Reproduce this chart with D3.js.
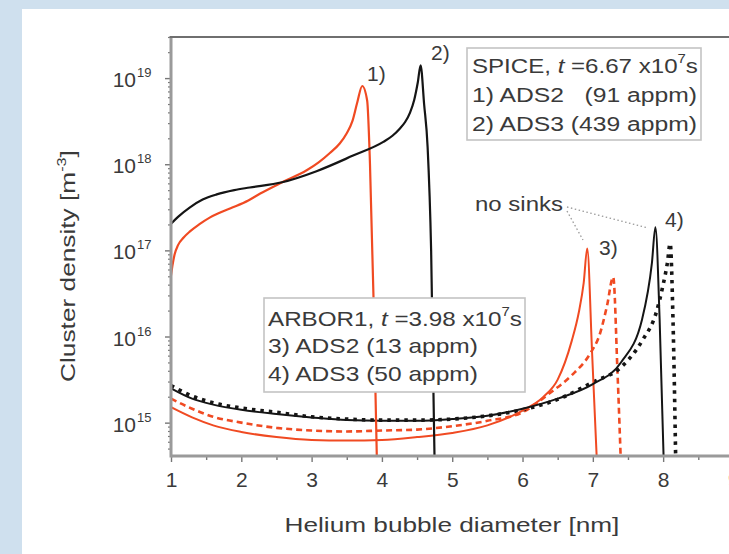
<!DOCTYPE html>
<html><head><meta charset="utf-8">
<script src="https://cdn.jsdelivr.net/npm/d3@7"></script>
<style>
body{margin:0;background:#cfe0ee;}
svg{display:block;}
text{font-family:"Liberation Sans",Arial,sans-serif;fill:#3a3a3a;white-space:pre;}
</style>
</head><body>
<svg id="c" width="729" height="554"></svg>
<script>
// ---------- data ----------
const xTickValues = [1,2,3,4,5,6,7,8,9];
const yTickExponents = [15,16,17,18,19];

// SPICE, ADS2 (91 appm) – red solid, label 1)
const spiceAds2X = [1.00,1.02,1.05,1.10,1.18,1.27,1.40,1.55,1.70,1.88,2.10,2.27,2.58,2.93,3.10,3.26,3.40,3.50,3.58,3.65,3.72,3.79,3.83,3.88,3.93];
const spiceAds2Y = [5.1e16,6.6e16,8.9e16,1.15e17,1.41e17,1.66e17,2.0e17,2.4e17,2.75e17,3.16e17,3.8e17,4.57e17,6.17e17,8.5e17,1.05e18,1.35e18,1.74e18,2.29e18,3.16e18,5.25e18,8.1e18,5.5e18,1.02e18,2.9e16,3.2e14];

// SPICE, ADS3 (439 appm) – black solid, label 2)
const spiceAds3X = [1.00,1.10,1.27,1.45,1.65,1.90,2.12,2.58,3.07,3.59,4.02,4.15,4.25,4.33,4.40,4.46,4.51,4.55,4.60,4.65,4.70,4.75];
const spiceAds3Y = [2.04e17,2.45e17,3.16e17,3.89e17,4.47e17,5.01e17,5.37e17,6.17e17,8.3e17,1.26e18,1.82e18,2.14e18,2.57e18,3.09e18,3.98e18,5.62e18,8.9e18,1.41e19,5.0e18,1.58e18,1.0e17,3.2e14];

// ARBOR1, ADS2 (13 appm) – red solid, label 3)
const arborAds2X = [1.0,1.3,1.6,2.0,2.5,3.0,3.5,4.0,4.5,5.0,5.5,6.0,6.3,6.5,6.7,6.8,6.87,6.92,6.99,7.06];
const arborAds2Y = [1.51e15,1.15e15,9.3e14,7.8e14,6.8e14,6.3e14,6.2e14,6.3e14,6.8e14,7.6e14,9.3e14,1.38e15,2.0e15,3.16e15,8.9e15,1.9e16,4.2e16,1.05e17,6.3e15,3.2e14];

// ARBOR1, ADS2 – red dashed
const arborAds2bX = [1.0,1.3,1.6,2.0,2.5,3.0,3.5,4.0,4.5,5.0,5.5,6.0,6.4,6.7,6.96,7.1,7.2,7.29,7.35,7.40];
const arborAds2bY = [1.9e15,1.45e15,1.17e15,1.0e15,8.7e14,8.1e14,7.9e14,8.1e14,8.3e14,9.1e14,1.05e15,1.32e15,2.24e15,3.55e15,6.3e15,1.07e16,2.24e16,4.9e16,4.0e15,3.2e14];

// ARBOR1, ADS3 (50 appm) – black solid, label 4)
const arborAds3X = [1.0,1.3,1.6,2.0,2.5,3.0,3.5,4.0,4.5,5.0,5.5,6.0,6.5,7.0,7.4,7.7,7.84,7.89,7.95,8.01];
const arborAds3Y = [2.5e15,1.9e15,1.62e15,1.41e15,1.26e15,1.15e15,1.07e15,1.05e15,1.05e15,1.1e15,1.2e15,1.45e15,1.9e15,2.8e15,5.0e15,1.58e16,7.1e16,1.86e17,1.58e16,3.2e14];

// ARBOR1, ADS3 – black dotted
const arborAds3bX = [1.0,1.3,1.6,2.0,2.5,3.0,3.5,4.0,4.5,5.0,5.5,6.0,6.5,7.0,7.4,7.7,7.91,8.00,8.06,8.10,8.14,8.18];
const arborAds3bY = [2.7e15,2.04e15,1.7e15,1.48e15,1.32e15,1.17e15,1.1e15,1.07e15,1.07e15,1.1e15,1.2e15,1.41e15,1.86e15,2.95e15,4.4e15,8.9e15,2.0e16,4.0e16,7.1e16,1.2e17,1.58e16,3.2e14];

// ---------- chart ----------
const svg = d3.select("#c");
const W = 729, H = 554;
const RED = "#f04a22", BLK = "#151515";

svg.append("rect").attr("width",W).attr("height",H).attr("fill","#cfe0ee");
svg.append("rect").attr("x",22).attr("y",9).attr("width",W-22).attr("height",H-9).attr("fill","#ffffff");

const x = d3.scaleLinear().domain([1,9.5]).range([171,768.6]);
const y = d3.scaleLog().domain([4.1e14,3e19]).range([456,37]);
const plotTop = y.range()[1], plotBot = y.range()[0], plotLeft = x.range()[0];

svg.append("clipPath").attr("id","clip").append("rect")
  .attr("x",plotLeft).attr("y",plotTop).attr("width",W-plotLeft).attr("height",plotBot-plotTop);

const line = d3.line().x(d=>x(d[0])).y(d=>y(d[1])).curve(d3.curveMonotoneX);
const zip = (a,b)=>a.map((v,i)=>[v,b[i]]);

const curves = [
  {xs:arborAds2bX, ys:arborAds2bY, c:RED, w:2.6, dash:"6,4"},
  {xs:arborAds3bX, ys:arborAds3bY, c:BLK, w:3.6, dash:"3.5,5"},
  {xs:arborAds2X, ys:arborAds2Y, c:RED, w:2, dash:null},
  {xs:arborAds3X, ys:arborAds3Y, c:BLK, w:2, dash:null},
  {xs:spiceAds2X, ys:spiceAds2Y, c:RED, w:2.2, dash:null},
  {xs:spiceAds3X, ys:spiceAds3Y, c:BLK, w:2.2, dash:null}
];
const gC = svg.append("g").attr("clip-path","url(#clip)");
curves.forEach(cv=>{
  gC.append("path").attr("d",line(zip(cv.xs,cv.ys)))
    .attr("fill","none").attr("stroke",cv.c).attr("stroke-width",cv.w)
    .attr("stroke-linejoin","round")
    .attr("stroke-dasharray",cv.dash);
});

// axes
const AX = "#9a9a9a";
const xMinor = d3.range(1.5,9.6,1);
svg.append("g").attr("transform",`translate(0,${plotBot})`)
  .call(d3.axisBottom(x).tickValues(xMinor).tickSize(4).tickFormat(""))
  .call(g=>{g.select(".domain").remove();g.selectAll("line").attr("stroke","#777").attr("stroke-width",1.4);});
const gx = svg.append("g").attr("transform",`translate(0,${plotBot})`)
  .call(d3.axisBottom(x).tickValues(xTickValues).tickSize(6).tickPadding(12))
  .call(g=>{g.select(".domain").remove();g.selectAll("line").attr("stroke","#777").attr("stroke-width",1.4);});
gx.selectAll("text").attr("font-size",21).attr("fill","#3a3a3a").attr("dy",null).attr("y",31)
  .style("font-family",'"Liberation Sans",Arial,sans-serif');

const yMinor = [];
yTickExponents.concat([14]).forEach(e=>{for(let k=2;k<=9;k++){const v=k*Math.pow(10,e); if(v>=y.domain()[0]&&v<=y.domain()[1]) yMinor.push(v);}});
svg.append("g").attr("transform",`translate(${plotLeft},0)`)
  .call(d3.axisLeft(y).tickValues(yMinor).tickSize(3).tickFormat(""))
  .call(g=>{g.select(".domain").remove();g.selectAll("line").attr("stroke","#777").attr("stroke-width",1.2);});
svg.append("g").attr("transform",`translate(${plotLeft},0)`)
  .call(d3.axisLeft(y).tickValues(yTickExponents.map(e=>Math.pow(10,e))).tickSize(6).tickFormat(""))
  .call(g=>{g.select(".domain").remove();g.selectAll("line").attr("stroke","#777").attr("stroke-width",1.4);});

yTickExponents.forEach(e=>{
  const yy = y(Math.pow(10,e));
  svg.append("text").attr("x",136).attr("y",yy+9).attr("text-anchor","end").attr("font-size",21).text("10");
  svg.append("text").attr("x",137).attr("y",yy-1).attr("font-size",13).text(String(e));
});

// frame lines
svg.append("line").attr("x1",plotLeft).attr("x2",W).attr("y1",plotBot).attr("y2",plotBot).attr("stroke",AX).attr("stroke-width",3);
svg.append("line").attr("x1",plotLeft).attr("x2",plotLeft).attr("y1",plotTop).attr("y2",plotBot+1.5).attr("stroke",AX).attr("stroke-width",3);
svg.append("line").attr("x1",plotLeft-1.5).attr("x2",W).attr("y1",plotTop).attr("y2",plotTop).attr("stroke","#6f6f6f").attr("stroke-width",2.2);

// helper: fit text horizontally to a target width
function fit(t, w, ax){
  const bw = t.node().getBBox().width;
  const s = w / bw;
  t.attr("transform",`translate(${ax},0) scale(${s},1) translate(${-ax},0)`);
}

// axis titles
const xl = svg.append("text").attr("x",452).attr("y",532).attr("text-anchor","middle").attr("font-size",21)
  .text("Helium bubble diameter [nm]");
fit(xl,335,452);

const gy = svg.append("g").attr("transform","translate(75,266) rotate(-90)");
const yl = gy.append("text").attr("x",0).attr("y",0).attr("text-anchor","middle").attr("font-size",21);
yl.append("tspan").text("Cluster density [m");
yl.append("tspan").attr("font-size",13).attr("dy",-9).text("-3");
yl.append("tspan").attr("dy",9).text("]");
fit(yl,232,0);

// legend boxes
function legendBox(bx,by,bw,bh,tx,lines){
  svg.append("rect").attr("x",bx).attr("y",by).attr("width",bw).attr("height",bh)
    .attr("fill","#fff").attr("stroke","#c4c4c4").attr("stroke-width",1.6);
  lines.forEach(L=>{
    const t = svg.append("text").attr("x",tx).attr("y",L.y).attr("font-size",21);
    L.parts.forEach(p=>{
      const ts = t.append("tspan").text(p.s);
      if(p.it) ts.attr("font-style","italic");
      if(p.sup) ts.attr("font-size",13).attr("dy",-10);
      if(p.down) ts.attr("dy",10);
    });
    fit(t,L.w,tx);
  });
}
legendBox(467,48,234,92,472,[
  {y:73,w:226,parts:[{s:"SPICE, "},{s:"t",it:true},{s:" =6.67 x10"},{s:"7",sup:true},{s:"s",down:true}]},
  {y:102,w:225,parts:[{s:"1) ADS2   (91 appm)"}]},
  {y:131,w:225,parts:[{s:"2) ADS3 (439 appm)"}]}
]);
legendBox(264,298,261,94,268,[
  {y:326,w:254,parts:[{s:"ARBOR1, "},{s:"t",it:true},{s:" =3.98 x10"},{s:"7",sup:true},{s:"s",down:true}]},
  {y:353,w:210,parts:[{s:"3) ADS2 (13 appm)"}]},
  {y:381,w:210,parts:[{s:"4) ADS3 (50 appm)"}]}
]);

// curve labels
[["1)",367,81],["2)",431,60],["3)",599,255],["4)",665,227]].forEach(([s,lx,ly])=>{
  svg.append("text").attr("x",lx).attr("y",ly).attr("font-size",21).text(s);
});

// "no sinks" annotation
const ns = svg.append("text").attr("x",475).attr("y",211).attr("font-size",21).text("no sinks");
fit(ns,88,475);
const lead = d3.line();
[[[567,211],[583,240]],[[567,207],[648,228]]].forEach(p=>{
  svg.append("path").attr("d",lead(p)).attr("fill","none").attr("stroke","#9a9a9a")
    .attr("stroke-width",1.3).attr("stroke-dasharray","1.5,2.5");
});
</script>
</body></html>
